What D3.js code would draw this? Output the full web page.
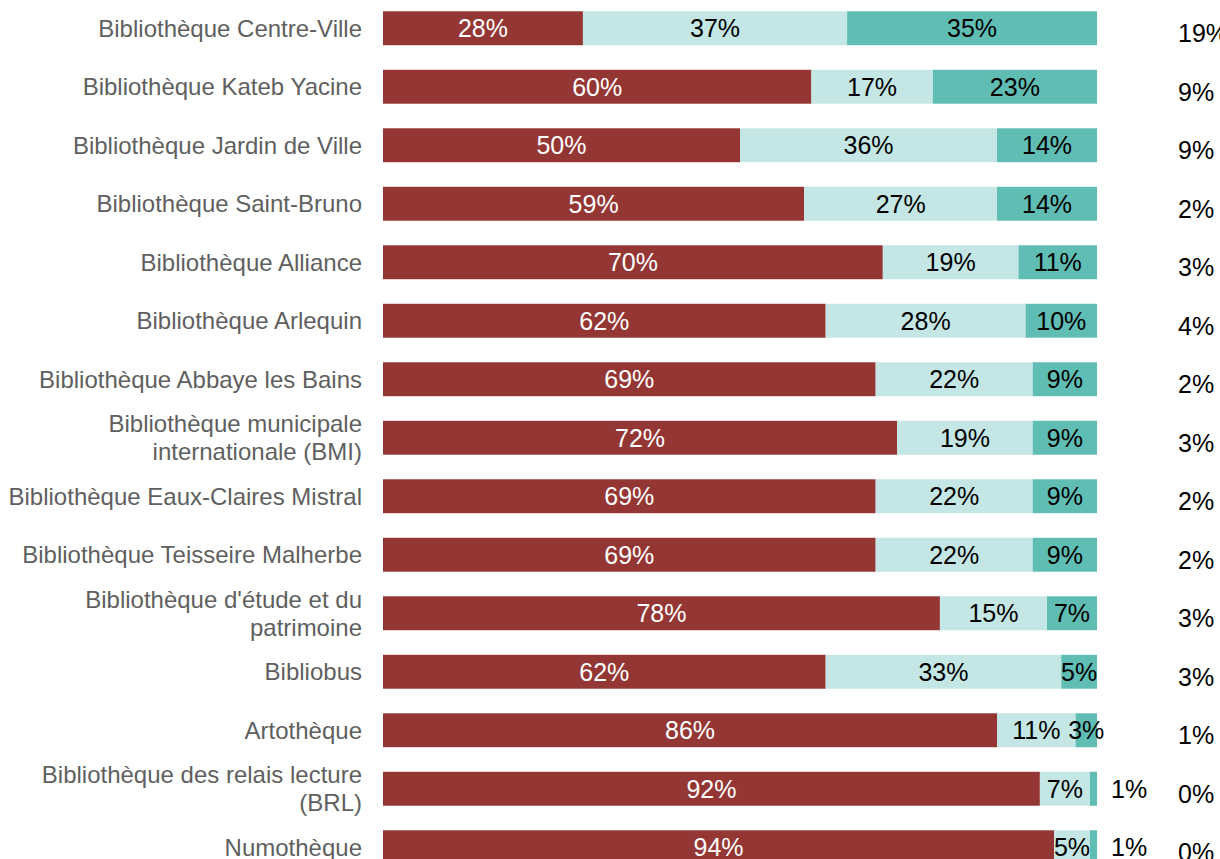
<!DOCTYPE html>
<html>
<head>
<meta charset="utf-8">
<script src="https://cdn.jsdelivr.net/npm/d3@7"></script>
<style>
  body { margin: 0; background: #fff; }
  svg { display: block; font-family: "Liberation Sans", Arial, sans-serif; }
</style>
</head>
<body>
<svg width="1220" height="859"></svg>
<script>
const libraries = [
  "Bibliothèque Centre-Ville",
  "Bibliothèque Kateb Yacine",
  "Bibliothèque Jardin de Ville",
  "Bibliothèque Saint-Bruno",
  "Bibliothèque Alliance",
  "Bibliothèque Arlequin",
  "Bibliothèque Abbaye les Bains",
  "Bibliothèque municipale|internationale (BMI)",
  "Bibliothèque Eaux-Claires Mistral",
  "Bibliothèque Teisseire Malherbe",
  "Bibliothèque d'étude et du|patrimoine",
  "Bibliobus",
  "Artothèque",
  "Bibliothèque des relais lecture|(BRL)",
  "Numothèque"
];

const part1 = [28, 60, 50, 59, 70, 62, 69, 72, 69, 69, 78, 62, 86, 92, 94];
const part2 = [37, 17, 36, 27, 19, 28, 22, 19, 22, 22, 15, 33, 11, 7, 5];
const part3 = [35, 23, 14, 14, 11, 10, 9, 9, 9, 9, 7, 5, 3, 1, 1];
const other = [19, 9, 9, 2, 3, 4, 2, 3, 2, 2, 3, 3, 1, 0, 0];

const colors = ["#943634", "#c4e6e4", "#5fbdb3"];
const textColors = ["#ffffff", "#000000", "#000000"];

const svg = d3.select("svg");

const rows = libraries.map((name, i) => ({
  name: name,
  values: [part1[i], part2[i], part3[i]],
  other: other[i]
}));

const y = d3.scaleBand()
  .domain(libraries)
  .range([-1, 876.5])
  .paddingInner(0.42)
  .paddingOuter(0.21);

const x = d3.scaleLinear().domain([0, 100]).range([383, 1097]);

const row = svg.selectAll("g.row")
  .data(rows)
  .enter()
  .append("g")
  .attr("class", "row")
  .attr("transform", d => `translate(0,${y(d.name)})`);

// segments
row.each(function(d) {
  const g = d3.select(this);
  let start = 0;
  d.values.forEach(function(v, k) {
    const x0 = x(start), x1 = x(start + v);
    g.append("rect")
      .attr("x", x0)
      .attr("y", 0)
      .attr("width", x1 - x0)
      .attr("height", y.bandwidth())
      .attr("fill", colors[k]);

    // too thin segments get their label after the bar
    const small = v < 2;
    g.append("text")
      .attr("x", small ? x(100) + 14 : (x0 + x1) / 2)
      .attr("y", y.bandwidth() / 2)
      .attr("dy", "0.36em")
      .attr("text-anchor", small ? "start" : "middle")
      .attr("font-size", 25)
      .attr("fill", small ? "#000" : textColors[k])
      .text(v + "%");
    start += v;
  });
});

// category labels
row.append("text")
  .attr("x", 362)
  .attr("y", y.bandwidth() / 2)
  .attr("text-anchor", "end")
  .attr("font-size", 24)
  .attr("fill", "#5f5f5f")
  .each(function(d) {
    const lines = d.name.split("|");
    const t = d3.select(this);
    lines.forEach(function(line, j) {
      t.append("tspan")
        .attr("x", 362)
        .attr("y", y.bandwidth() / 2 + (j - (lines.length - 1) / 2) * 28)
        .attr("dy", "0.36em")
        .text(line);
    });
  });

// right column
row.append("text")
  .attr("x", 1178)
  .attr("y", y.bandwidth() / 2 + 5)
  .attr("dy", "0.36em")
  .attr("font-size", 25)
  .attr("fill", "#000")
  .text(d => d.other + "%");
</script>
</body>
</html>
